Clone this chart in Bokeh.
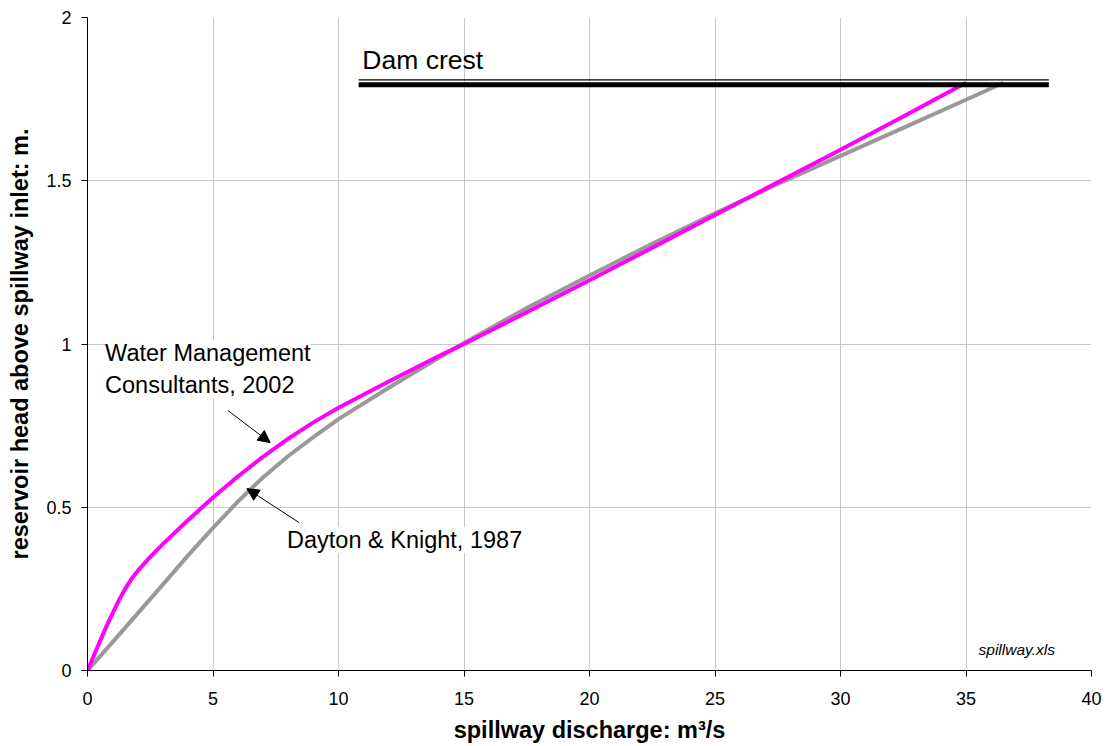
from bokeh.plotting import figure
from bokeh.models import Range1d, Label, Arrow, NormalHead, FixedTicker, NumeralTickFormatter
from bokeh.embed import file_html
from bokeh.resources import INLINE

# Water Management Consultants, 2002
wmc_q = [0, 0.25, 0.5, 0.75, 1.0, 1.25, 1.5, 1.75, 2.0, 2.5, 3, 4, 5, 6, 7, 8, 9, 10, 12, 14, 15,
         17.5, 20, 22.5, 25, 27.5, 30, 32.5, 35]
wmc_h = [0, 0.045, 0.09, 0.135, 0.175, 0.215, 0.25, 0.28, 0.305, 0.348, 0.387, 0.46, 0.53, 0.595,
         0.655, 0.71, 0.76, 0.805, 0.885, 0.963, 1.0, 1.097, 1.195, 1.295, 1.395, 1.495, 1.595,
         1.697, 1.80]
# Dayton & Knight, 1987
dk_q = [0, 1, 2, 3, 4, 5, 6, 7, 8, 9, 10, 12, 14, 15, 17.5, 20, 22.5, 25, 27.5, 30, 32.5, 35, 36.5]
dk_h = [0, 0.087, 0.175, 0.263, 0.352, 0.437, 0.518, 0.592, 0.657, 0.715, 0.77, 0.866, 0.958, 1.003,
        1.11, 1.21, 1.307, 1.40, 1.49, 1.576, 1.662, 1.748, 1.80]
# Dam crest
crest_q = [10.8, 38.3]
crest_h = 1.8

x_ticks = [0, 5, 10, 15, 20, 25, 30, 35, 40]
y_ticks = [0, 0.5, 1, 1.5, 2]

p = figure(width=1106, height=746, output_backend="svg", toolbar_location=None,
           x_range=Range1d(0, 40), y_range=Range1d(0, 2),
           min_border_left=87, min_border_right=15, min_border_top=17, min_border_bottom=76)
p.outline_line_color = None
p.background_fill_color = "white"
p.border_fill_color = "white"

for g in (p.xgrid, p.ygrid):
    g.grid_line_color = "#c8c8c8"
    g.grid_line_width = 1

p.xaxis.ticker = FixedTicker(ticks=x_ticks)
p.yaxis.ticker = FixedTicker(ticks=y_ticks)
p.yaxis.formatter = NumeralTickFormatter(format="0.[0]")
for ax in (p.xaxis, p.yaxis):
    ax.major_tick_out = 6
    ax.major_tick_in = 0
    ax.minor_tick_line_color = None
    ax.axis_line_color = "black"
    ax.major_tick_line_color = "black"
    ax.major_label_text_font = "Liberation Sans"
    ax.major_label_text_font_size = "18px"
    ax.major_label_text_color = "black"
    ax.axis_label_text_font = "Liberation Sans"
    ax.axis_label_text_font_size = "23.5px"
    ax.axis_label_text_font_style = "bold"
    ax.axis_label_text_color = "black"
p.xaxis.axis_label = "spillway discharge: m³/s"
p.yaxis.axis_label = "reservoir head above spillway inlet: m."
p.xaxis.major_label_standoff = 15
p.xaxis.axis_label_standoff = 9
p.yaxis.major_label_standoff = 10
p.yaxis.axis_label_standoff = 10

p.line(dk_q, dk_h, line_color="#999999", line_width=4, line_join="round")
p.line(wmc_q, wmc_h, line_color="#ff00ff", line_width=4, line_join="round")

# Dam crest
p.line(crest_q, [crest_h - 0.006] * 2, line_color="black", line_width=5)
p.line(crest_q, [crest_h + 0.009] * 2, line_color="black", line_width=1.2)
p.add_layout(Label(x=10.95, y=1.823, text="Dam crest", text_font="Liberation Sans",
                   text_font_size="26.5px", text_color="black"))

# Annotations
p.add_layout(Label(x=0.7, y=1.012, text="Water Management\nConsultants, 2002",
                   text_font="Liberation Sans", text_font_size="23.5px", text_color="black",
                   text_baseline="top", text_line_height=1.23,
                   background_fill_color="white"))
p.add_layout(Arrow(x_start=5.6, y_start=0.796, x_end=7.28, y_end=0.698, line_width=1,
                   line_color="black",
                   end=NormalHead(size=12, fill_color="black", line_color="black")))
p.add_layout(Label(x=7.95, y=0.40, text="Dayton & Knight, 1987",
                   text_font="Liberation Sans", text_font_size="23.5px", text_color="black",
                   text_baseline="middle", background_fill_color="white"))
p.add_layout(Arrow(x_start=8.43, y_start=0.453, x_end=6.35, y_end=0.557, line_width=1,
                   line_color="black",
                   end=NormalHead(size=12, fill_color="black", line_color="black")))
p.add_layout(Label(x=35.5, y=0.063, text="spillway.xls", text_font="Liberation Sans",
                   text_font_size="15.5px", text_font_style="italic", text_color="black",
                   text_baseline="alphabetic"))

open("out.html", "w").write(file_html(p, INLINE))
